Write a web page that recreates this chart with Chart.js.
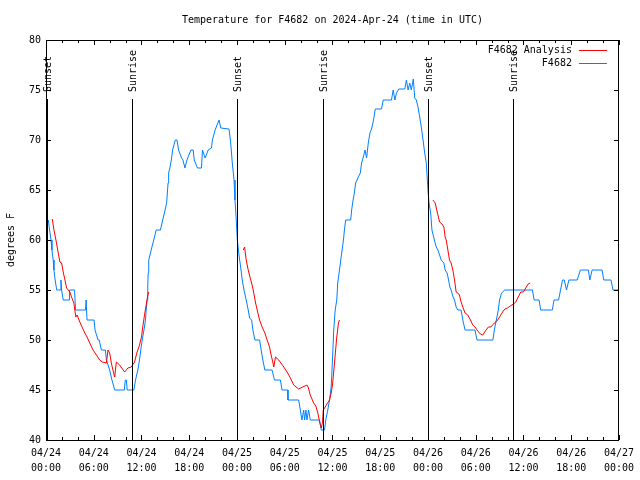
<!DOCTYPE html>
<html><head><meta charset="utf-8">
<script src="https://cdn.jsdelivr.net/npm/chart.js@4/dist/chart.umd.min.js"></script>
<style>html,body{margin:0;padding:0;background:#fff;}#wrap{width:640px;height:480px;}</style>
</head><body><div id="wrap"><canvas id="c" width="640" height="480"></canvas></div>
<script>
// ---- data (hours since 04/24 00:00 UTC, degrees F) ----
const chartTitle = "Temperature for F4682 on 2024-Apr-24 (time in UTC)";
const yAxisTitle = "degrees F";
const tickLabels = [
  ["04/24","00:00"],["04/24","06:00"],["04/24","12:00"],["04/24","18:00"],
  ["04/25","00:00"],["04/25","06:00"],["04/25","12:00"],["04/25","18:00"],
  ["04/26","00:00"],["04/26","06:00"],["04/26","12:00"],["04/26","18:00"],
  ["04/27","00:00"]
];
const yTickValues = [40,45,50,55,60,65,70,75,80];
const eventTimes = [0.1, 10.8, 24.04, 34.8, 48.04, 58.7];
const eventLabels = ["Sunset","Sunrise","Sunset","Sunrise","Sunset","Sunrise"];

const obsLabel = "F4682";
const obsTimes = [0.29,0.45,0.63,0.75,0.9,1.0,1.15,1.35,1.54,1.81,1.88,1.96,2.16,2.91,2.96,3.59,3.71,4.96,5.04,5.16,6.04,6.16,6.54,6.69,6.96,7.46,7.59,8.0,8.29,8.63,9.84,9.96,10.09,10.21,11.04,11.25,11.54,11.75,11.91,12.09,12.31,12.5,12.59,12.71,12.79,12.84,12.91,13.13,13.31,13.54,13.84,14.38,14.66,14.91,15.16,15.25,15.34,15.41,15.59,15.75,15.91,16.25,16.46,16.66,17.04,17.21,17.46,17.71,18.21,18.5,18.63,19.04,19.54,19.66,20.0,20.38,20.79,20.91,21.25,21.5,21.75,21.96,23.0,23.21,23.41,23.63,23.75,23.91,24.04,24.25,24.46,24.66,24.88,25.16,25.41,25.59,25.84,26.0,26.25,26.84,27.04,27.25,27.5,28.41,28.71,29.46,29.66,30.38,30.41,31.75,31.96,32.16,32.38,32.5,32.66,32.79,33.0,33.21,34.38,34.59,35.0,35.16,35.41,35.63,35.84,36.0,36.16,36.34,36.54,36.66,36.88,37.09,37.38,37.5,37.66,38.29,38.41,38.59,38.75,38.91,39.09,39.25,39.5,39.66,39.88,40.09,40.29,40.5,40.71,40.91,41.16,41.38,42.16,42.38,43.41,43.63,43.84,44.04,44.34,45.09,45.29,45.5,45.71,45.91,46.16,46.34,46.54,46.75,46.96,47.16,47.38,47.59,47.79,48.0,48.13,48.34,48.5,48.81,49.04,49.25,49.46,49.66,50.0,50.16,50.41,50.59,50.75,50.91,51.16,51.34,51.54,51.75,52.16,52.38,52.66,53.91,54.16,56.16,56.34,56.59,56.84,57.0,57.25,57.66,61.13,61.34,61.96,62.16,63.63,63.84,64.41,64.66,64.91,65.13,65.41,65.71,66.75,67.16,68.16,68.34,68.63,69.88,70.09,71.0,71.25,71.88];
const obsTemps = [62,61,60,59,58,57,56,55,55,55,56,55,54,54,55,55,53,53,54,52,52,51,50,50,49,49,48,47,46,45,45,46,46,45,45,46,47,48,49,50,51,52,53,54,55.5,56.7,58,58.7,59.3,60,61,61,62,62.8,63.7,64.7,65.7,66.7,67.3,68,69,70,70,69,68.2,68,67.2,68,69,69,68,67.2,67.2,69,68.2,69,69.2,70,71,71.5,72,71.2,71.1,69.7,67.7,66,64,62,60,58.5,57.3,56,55,54,53,52.2,52,51,50,50,49,48,47,47,46,46,45,45,44,44,43,42,43,42,43,42,43,42,42,41,41,42,43,44,45.3,48,51,53,54,55.7,57,58.3,60,61,62,62,63,64,64.7,65.7,66,66.3,66.7,67.7,68.3,69,68.2,69.7,70.7,71.1,72,73.1,73.1,74,74,75,74,74.7,75.1,75.1,76,75,75.7,75,76.1,74.2,74,73.3,72.3,71.3,70,68.7,67.7,65,63.7,62.7,61,60,59.3,59,58.5,58,57.7,57,56.7,56,55.3,55,54.3,54,53.3,53,53,52,51,51,50,50,51,52,53,54,54.7,55,55,54,54,53,53,54,54,55,56,56,55,56,56,57,57,56,57,57,56,56,55,55];

const anaLabel = "F4682 Analysis";
const anaTimes = [0.79,1.0,1.25,1.54,1.75,1.96,2.16,2.38,2.59,3.0,3.21,3.5,3.75,3.91,4.25,4.59,4.88,5.16,5.5,5.91,6.34,6.75,7.09,7.59,7.79,8.0,8.21,8.41,8.63,8.84,9.25,9.88,10.29,10.71,11.13,11.41,11.75,12.0,12.16,12.38,12.59,12.75,12.91,
  18.0,
  24.79,24.96,25.16,25.41,25.63,25.84,26.04,26.34,26.63,26.84,27.16,27.5,27.79,28.09,28.29,28.5,28.63,28.84,29.25,29.88,30.29,30.71,31.13,31.75,32.25,32.79,32.94,33.21,33.63,33.91,34.16,34.41,34.59,34.75,34.84,35.09,35.38,35.63,35.84,36.0,36.21,36.34,36.54,36.75,36.88,
  42.0,
  48.63,48.91,49.16,49.46,49.75,50.0,50.16,50.29,50.5,50.71,50.91,51.13,51.34,51.54,51.75,51.96,52.16,52.38,52.66,53.0,53.34,53.63,53.91,54.25,54.59,54.88,55.21,55.59,55.91,56.34,56.66,57.0,57.38,57.66,58.0,58.34,58.75,59.04,59.34,59.66,60.0,60.29,60.59,60.84];
const anaTemps = [62.1,61,60,58.7,57.8,57.7,56.8,56,55.2,54.8,54.3,53.7,52.3,52.5,51.8,51.2,50.7,50.3,49.7,49,48.5,48,47.8,47.7,49,48.7,47.7,47,46.3,47.8,47.5,46.8,47.2,47.3,47.8,48.7,49.5,50.3,51.3,52.5,53.5,54.3,54.8,
  null,
  59,59.3,58,57,56.3,55.7,55,53.7,52.7,52,51.3,50.7,50,49.3,48.5,47.8,47.3,48.3,48,47.3,46.8,46.2,45.5,45.1,45.3,45.5,45.3,44.5,43.7,43.4,42.7,41.7,41.2,41.8,43,43.3,43.7,44,44.7,45.5,47.3,48.5,50.3,51.7,52,
  null,
  64,63.7,62.8,61.8,61.6,61.3,60.3,60,59,58,57.7,57,56,54.8,54.7,54.5,53.8,53.3,52.7,52.5,52,51.5,51.3,50.9,50.6,50.5,50.9,51.3,51.3,51.7,51.9,52.3,52.8,53.1,53.2,53.4,53.6,53.8,54.3,54.8,54.8,55.2,55.6,55.7];

const FONT = "'DejaVu Sans Mono', 'Liberation Mono', monospace";
const toPts = (xs, ys) => xs.map((x, i) => ({x: x, y: ys[i]}));

const decorPlugin = {
  id: 'decor',
  beforeDraw(chart) {
    const ctx = chart.ctx;
    ctx.save();
    ctx.fillStyle = '#fff';
    ctx.fillRect(0, 0, chart.width, chart.height);
    ctx.restore();
  },
  afterDatasetsDraw(chart) {
    const ctx = chart.ctx, a = chart.chartArea;
    const xs = chart.scales.x, ys = chart.scales.y;
    ctx.save();
    ctx.font = '10px ' + FONT;
    ctx.fillStyle = '#000';
    ctx.strokeStyle = '#000';
    ctx.lineWidth = 1;
    // sunrise / sunset markers
    eventTimes.forEach((t, i) => {
      const px = Math.round(xs.getPixelForValue(t)) + 0.5;
      ctx.beginPath();
      ctx.moveTo(px, a.top + 59);
      ctx.lineTo(px, a.bottom);
      ctx.stroke();
      ctx.save();
      ctx.translate(px + 1, a.top + 52);
      ctx.rotate(-Math.PI / 2);
      ctx.textAlign = 'left';
      ctx.textBaseline = 'middle';
      ctx.fillText(eventLabels[i], 0, 0);
      ctx.restore();
    });
    // frame
    ctx.strokeRect(Math.round(a.left) + 0.5, Math.round(a.top) + 0.5,
                   Math.round(a.right - a.left) - 1, Math.round(a.bottom - a.top));
    // inward ticks
    xs.ticks.forEach(tk => {
      const px = Math.round(xs.getPixelForValue(tk.value)) + 0.5;
      const len = (tk.value % 6 === 0) ? 5 : 3;
      ctx.beginPath();
      ctx.moveTo(px, a.bottom); ctx.lineTo(px, a.bottom - len);
      ctx.moveTo(px, a.top); ctx.lineTo(px, a.top + len);
      ctx.stroke();
    });
    ys.ticks.forEach(tk => {
      const py = Math.round(ys.getPixelForValue(tk.value)) + 0.5;
      ctx.beginPath();
      ctx.moveTo(a.left, py); ctx.lineTo(a.left + 5, py);
      ctx.moveTo(a.right, py); ctx.lineTo(a.right - 5, py);
      ctx.stroke();
    });
    // title
    ctx.textAlign = 'center';
    ctx.textBaseline = 'middle';
    ctx.fillText(chartTitle, (a.left + a.right) / 2, 20);
    // y axis title
    ctx.save();
    ctx.translate(11, (a.top + a.bottom) / 2);
    ctx.rotate(-Math.PI / 2);
    ctx.fillText(yAxisTitle, 0, 0);
    ctx.restore();
    // legend
    const ds = chart.data.datasets;
    ds.forEach((d, i) => {
      const y = a.top + 9.5 + i * 13;
      ctx.textAlign = 'right';
      ctx.fillStyle = '#000';
      ctx.fillText(d.label, a.right - 47, y + 1);
      ctx.strokeStyle = d.borderColor;
      ctx.beginPath();
      ctx.moveTo(a.right - 40, Math.round(y) + 0.5);
      ctx.lineTo(a.right - 12, Math.round(y) + 0.5);
      ctx.stroke();
    });
    ctx.restore();
  }
};

new Chart(document.getElementById('c'), {
  type: 'line',
  data: {
    datasets: [
      {label: anaLabel, data: toPts(anaTimes, anaTemps), borderColor: '#ff0000', borderWidth: 1,
       pointRadius: 0, tension: 0, spanGaps: false, fill: false},
      {label: obsLabel, data: toPts(obsTimes, obsTemps), borderColor: '#0080ff', borderWidth: 1,
       pointRadius: 0, tension: 0, fill: false}
    ]
  },
  options: {
    responsive: false,
    animation: false,
    devicePixelRatio: 1,
    layout: {padding: {top: 40, right: 18, left: 0, bottom: 0}},
    plugins: {legend: {display: false}, title: {display: false}, tooltip: {enabled: false}},
    scales: {
      x: {
        type: 'linear', min: 0, max: 72, position: 'bottom',
        grid: {display: false, drawTicks: false},
        border: {display: false},
        ticks: {
          stepSize: 2, autoSkip: false, maxRotation: 0, minRotation: 0, padding: 6,
          color: '#000', font: {family: FONT, size: 10, lineHeight: 1.5},
          callback: (v) => (v % 6 === 0 ? tickLabels[v / 6] : '')
        },
        afterFit: (s) => { s.height = 40; }
      },
      y: {
        type: 'linear', min: 40, max: 80,
        grid: {display: false, drawTicks: false},
        border: {display: false},
        afterBuildTicks: (s) => { s.ticks = yTickValues.map(v => ({value: v})); },
        ticks: {
          padding: 5, color: '#000', font: {family: FONT, size: 10},
          callback: (v) => String(v)
        },
        afterFit: (s) => { s.width = 46; }
      }
    }
  },
  plugins: [decorPlugin]
});
</script></body></html>
